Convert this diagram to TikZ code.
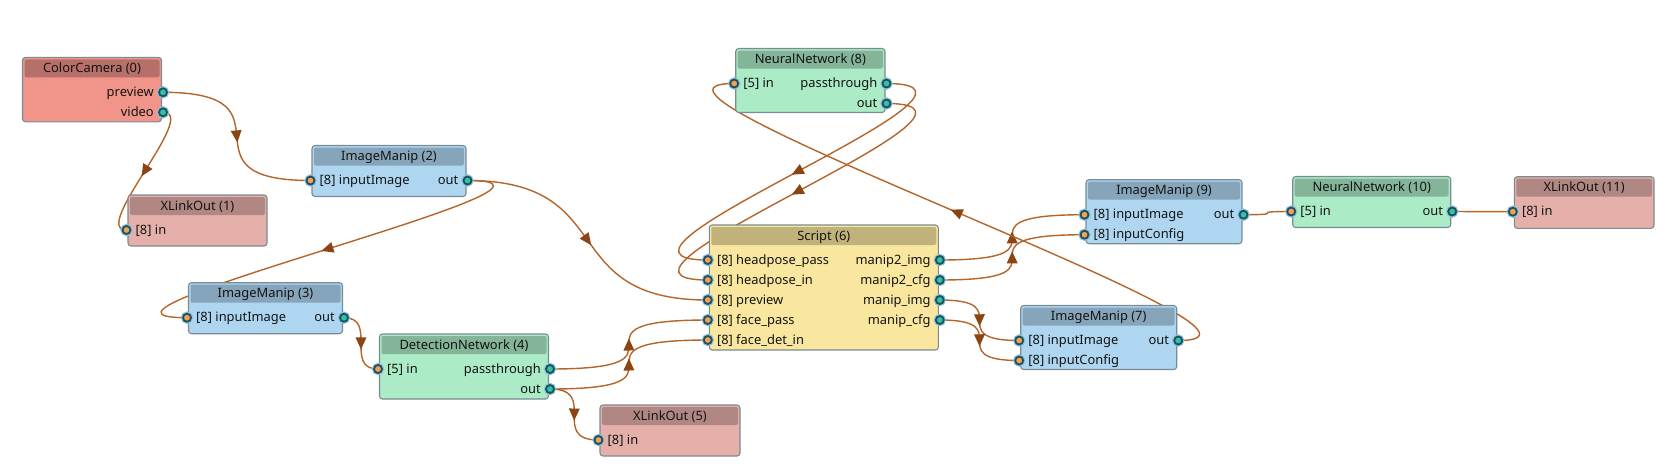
\documentclass[tikz,border=0pt]{standalone}
\usepackage{fontspec}
\setmainfont{Noto Sans}
\usetikzlibrary{calc,positioning,decorations.markings,backgrounds}
\definecolor{Edge}{HTML}{B5652A}
\definecolor{Tip}{HTML}{8B4513}
\definecolor{Frame}{HTML}{7A8B94}
\definecolor{Ink}{HTML}{141414}
\definecolor{PortRim}{HTML}{1F4E63}
\definecolor{PortGlow}{HTML}{8CC3DB}
\definecolor{PortOut}{HTML}{2DC5A0}
\definecolor{PortIn}{HTML}{F4A14F}
\definecolor{CamBody}{HTML}{F1948A}
\definecolor{CamHead}{HTML}{B77069}
\definecolor{XlBody}{HTML}{E6B0AA}
\definecolor{XlHead}{HTML}{B18783}
\definecolor{ImBody}{HTML}{AED6F1}
\definecolor{ImHead}{HTML}{86A5BA}
\definecolor{NnBody}{HTML}{ABEBC6}
\definecolor{NnHead}{HTML}{84B598}
\definecolor{ScBody}{HTML}{F9E79F}
\definecolor{ScHead}{HTML}{C0B27A}
% name, left, top, width, height, title, body, header
\newcommand{\Block}[8]{%
  \node[body,fill=#7,minimum width=#4,minimum height=#5] (#1) at (#2,#3) {};
  \node[head,fill=#8,minimum width=#4-4,below=1.8pt of #1.north] (#1-h) {#6};}
% block, row, id, text
\newcommand{\Inport}[4]{%
  \node[inport] (#1-#3) at ($(#1.north west)+(-1.5,15+20*#2)$) {};
  \node[lbl,right=5pt of #1-#3] (#1-#3-l) {#4};}
\newcommand{\Outport}[4]{%
  \node[outport] (#1-#3) at ($(#1.north east)+(1.5,15+20*#2)$) {};
  \node[lbl,left=5pt of #1-#3] (#1-#3-l) {#4};}

\begin{document}
\begin{tikzpicture}[x=1pt,y=-1pt,
  txt/.style={font=\fontsize{12.9}{15}\selectfont,text=Ink,inner sep=0,text height=11pt,text depth=3pt},
  body/.style={draw=Frame,line width=1.1pt,rounded corners=3pt,anchor=north west,inner sep=0,outer sep=0},
  head/.style={txt,rounded corners=2pt,minimum height=18pt},
  port/.style={circle,minimum size=8pt,inner sep=0,outer sep=0,draw=PortRim,line width=1.8pt,preaction={draw=PortGlow,line width=4.2pt}},
  inport/.style={port,fill=PortIn},
  outport/.style={port,fill=PortOut},
  lbl/.style={txt},
  wire/.style={Edge,line width=1.4pt},
  link/.style={wire,postaction={decorate},decoration={markings,mark=at position .5 with {\fill[Tip] (6,0) -- (-6,5.5) -- (-6,-5.5) -- cycle;}}}]
  \useasboundingbox (0,0) rectangle (1670,475);

  \Block{cc}{22.5}{57.3}{139}{64.5}{ColorCamera (0)}{CamBody}{CamHead}
  \Block{xla}{128}{195}{139}{51}{XLinkOut (1)}{XlBody}{XlHead}
  \Block{ima}{312}{145.5}{154}{51}{ImageManip (2)}{ImBody}{ImHead}
  \Block{imb}{188.5}{282.7}{154}{51}{ImageManip (3)}{ImBody}{ImHead}
  \Block{det}{379.5}{334}{169}{65}{DetectionNetwork (4)}{NnBody}{NnHead}
  \Block{xlb}{600}{405}{140}{51}{XLinkOut (5)}{XlBody}{XlHead}
  \Block{scr}{709.3}{225}{229}{125}{Script (6)}{ScBody}{ScHead}
  \Block{imc}{1020.7}{305.5}{156}{64}{ImageManip (7)}{ImBody}{ImHead}
  \Block{nna}{735.7}{48.5}{149.3}{64}{NeuralNetwork (8)}{NnBody}{NnHead}
  \Block{imd}{1086}{179.7}{156}{64}{ImageManip (9)}{ImBody}{ImHead}
  \Block{nnb}{1292.7}{176.5}{158}{51}{NeuralNetwork (10)}{NnBody}{NnHead}
  \Block{xlc}{1514.3}{176.7}{139.7}{51.6}{XLinkOut (11)}{XlBody}{XlHead}

  % inputs
  \foreach \b/\r/\id/\t in {xla/1/in/[8] in, ima/1/img/[8] inputImage, imb/1/img/[8] inputImage,
      det/1/in/[5] in, xlb/1/in/[8] in, scr/1/hpass/[8] headpose\_pass, scr/2/hin/[8] headpose\_in,
      scr/3/prev/[8] preview, scr/4/fpass/[8] face\_pass, scr/5/fdet/[8] face\_det\_in,
      imc/1/img/[8] inputImage, imc/2/cfg/[8] inputConfig, nna/1/in/[5] in,
      imd/1/img/[8] inputImage, imd/2/cfg/[8] inputConfig, nnb/1/in/[5] in, xlc/1/in/[8] in}
    \Inport{\b}{\r}{\id}{\t};
  % outputs
  \foreach \b/\r/\id/\t in {cc/1/prev/preview, cc/2/vid/video, ima/1/out/out, imb/1/out/out,
      det/1/pass/passthrough, det/2/out/out, scr/1/mimgb/manip2\_img, scr/2/mcfgb/manip2\_cfg,
      scr/3/mimg/manip\_img, scr/4/mcfg/manip\_cfg, imc/1/out/out, nna/1/pass/passthrough,
      nna/2/out/out, imd/1/out/out, nnb/1/out/out}
    \Outport{\b}{\r}{\id}{\t};

  \begin{scope}[on background layer]
    \fill[white] (0,0) rectangle (1670,475);
    \foreach \a/\c/\k in {cc-prev/ima-img/139, cc-vid/xla-in/37, ima-out/imb-img/154,
        ima-out/scr-prev/154, imb-out/det-in/34, det-pass/scr-fpass/158, det-out/scr-fdet/158,
        det-out/xlb-in/49, nna-pass/scr-hpass/149, nna-out/scr-hin/149, scr-mimgb/imd-img/145,
        scr-mcfgb/imd-cfg/145, scr-mimg/imc-img/79, scr-mcfg/imc-cfg/79, imc-out/nna-in/156}
      \draw[link] (\a.center) .. controls +(\k,0) and +(-\k,0) .. (\c.center);
    \draw[wire] (imd-out.center) .. controls +(48,0) and +(-48,0) .. (nnb-in.center);
    \draw[wire] (nnb-out.center) -- (xlc-in.center);
  \end{scope}
\end{tikzpicture}
\end{document}
